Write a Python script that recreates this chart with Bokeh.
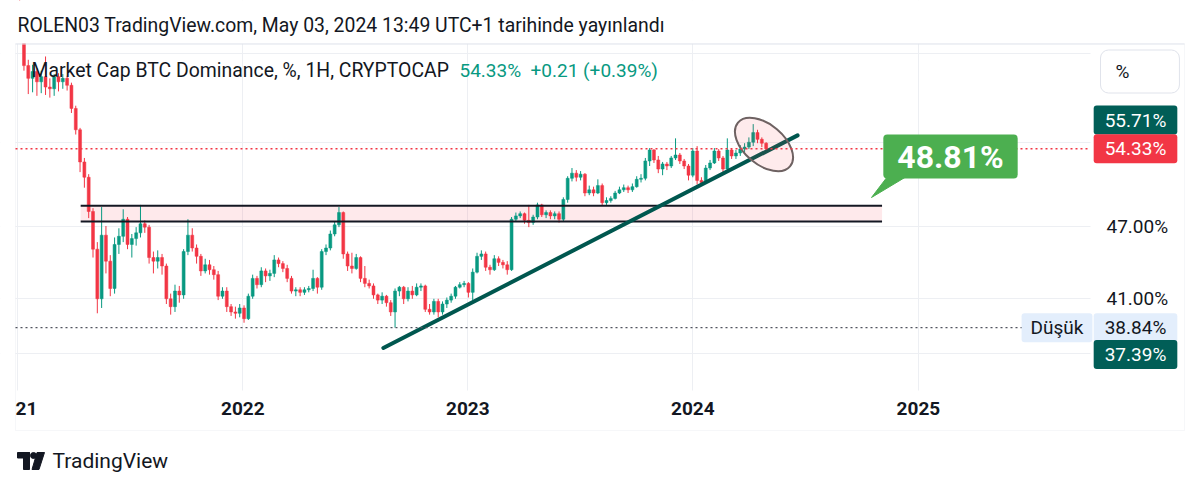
from datetime import datetime, timedelta
import math
import pandas as pd
from bokeh.plotting import figure
from bokeh.models import (Range1d, FixedTicker, PrintfTickFormatter, DatetimeTickFormatter,
                          Label, BoxAnnotation, ColumnDataSource)
from bokeh.embed import file_html
from bokeh.resources import INLINE

# ---------------- data ----------------
header = "ROLEN03 TradingView.com, May 03, 2024 13:49 UTC+1 tarihinde yayınlandı"
symbol_title = "Market Cap BTC Dominance, %, 1H, CRYPTOCAP"
change_abs = "+0.21"
change_pct = "(+0.39%)"
low_label = "Düşük"
brand = "TradingView"
first_week = "2021-01-04"
first_open = 70.8

closes = [
    69.2, 63.5, 62.0, 62.8, 61.6, 62.2, 61.0, 60.8, 62.2, 61.6,
    62.0, 61.2, 58.6, 56.3, 53.0, 51.5, 48.3, 45.0, 41.0, 46.2,
    44.0, 41.8, 45.4, 46.1, 47.6, 45.4, 45.9, 46.4, 47.2, 46.9,
    44.3, 44.0, 44.3, 43.6, 41.0, 40.4, 41.6, 41.3, 44.8, 46.2,
    45.1, 44.4, 43.2, 43.7, 43.3, 42.9, 41.2, 41.6, 40.4, 40.0,
    39.9, 40.3, 39.5, 41.2, 42.6, 42.1, 43.2, 42.8, 43.0, 44.1,
    43.8, 43.4, 42.6, 41.6, 41.7, 41.5, 41.7, 41.8, 42.6, 41.9,
    44.8, 45.1, 46.3, 47.1, 48.2, 44.6, 43.6, 43.4, 44.3, 42.6,
    42.2, 42.0, 41.3, 40.9, 41.2, 40.7, 40.0, 41.6, 41.9, 41.0,
    41.6, 41.3, 41.9, 42.0, 40.2, 40.0, 40.8, 40.0, 40.6, 40.9,
    41.2, 41.9, 42.1, 42.2, 41.5, 43.1, 44.4, 44.6, 43.5, 43.3,
    44.2, 43.9, 43.7, 43.3, 47.6, 47.9, 48.1, 47.5, 47.3, 47.8,
    48.9, 48.0, 48.2, 47.9, 48.1, 47.6, 49.4, 51.4, 51.9, 51.5,
    51.8, 50.0, 50.3, 50.0, 50.7, 49.1, 49.3, 49.5, 50.0, 50.3,
    50.5, 50.3, 50.6, 51.3, 51.4, 53.1, 54.2, 53.2, 52.3, 52.8,
    52.6, 53.4, 53.7, 53.1, 52.6, 51.7, 54.1, 51.2, 51.0, 52.4,
    52.9, 54.1, 53.4, 52.3, 54.2, 53.6, 53.9, 54.3, 54.5, 55.0,
    56.0, 55.3, 54.9, 54.33,
]
highs = [
    73.0, 69.8, 64.2, 63.6, 63.2, 62.9, 64.6, 62.0, 62.5, 62.6,
    62.5, 62.3, 61.5, 58.9, 56.5, 53.4, 51.8, 48.6, 45.6, 48.7,
    47.0, 44.5, 46.0, 46.8, 48.5, 47.8, 46.3, 46.9, 48.9, 47.5,
    47.1, 44.8, 44.9, 44.6, 43.8, 41.4, 42.1, 42.0, 45.0, 47.6,
    46.8, 45.4, 44.6, 44.2, 44.1, 43.6, 43.2, 41.9, 41.9, 40.6,
    40.4, 40.6, 40.5, 41.4, 42.9, 42.8, 43.5, 43.4, 43.3, 44.5,
    44.3, 44.0, 43.7, 42.8, 41.9, 41.9, 41.9, 42.0, 43.3, 42.7,
    45.0, 45.4, 46.6, 47.4, 48.7, 48.3, 44.8, 44.7, 44.6, 44.4,
    43.6, 42.5, 42.2, 41.4, 41.5, 41.3, 40.9, 41.8, 42.0, 42.0,
    41.9, 42.0, 42.2, 42.2, 42.1, 40.6, 41.0, 41.0, 40.8, 41.1,
    41.4, 42.0, 42.3, 42.4, 42.3, 43.4, 44.7, 44.9, 44.8, 43.7,
    44.5, 44.4, 44.1, 44.0, 47.8, 48.2, 48.3, 48.2, 48.9, 48.0,
    49.1, 49.0, 48.4, 48.4, 48.3, 48.3, 49.6, 51.6, 52.4, 52.2,
    52.1, 51.9, 50.7, 50.6, 51.3, 50.9, 49.6, 49.7, 50.2, 50.6,
    50.8, 50.7, 50.9, 51.6, 51.8, 53.4, 54.4, 54.3, 53.6, 53.0,
    53.0, 53.6, 55.4, 53.9, 53.3, 52.8, 54.4, 54.6, 51.5, 52.7,
    53.2, 54.4, 54.3, 53.6, 55.4, 54.3, 54.2, 54.7, 54.9, 55.5,
    56.9, 56.3, 55.5, 55.0,
]
lows = [
    68.0, 62.9, 60.2, 60.4, 60.0, 60.3, 60.1, 59.8, 60.0, 60.5,
    60.8, 60.6, 58.1, 55.8, 52.0, 50.5, 47.7, 44.3, 39.9, 40.3,
    43.0, 41.2, 41.4, 44.6, 45.6, 45.0, 44.3, 45.3, 46.0, 46.4,
    43.8, 43.0, 43.4, 42.9, 40.6, 39.8, 40.0, 40.7, 41.0, 44.5,
    44.8, 43.8, 42.8, 43.0, 42.9, 42.5, 40.9, 41.0, 40.0, 39.7,
    39.5, 39.6, 39.2, 39.4, 41.0, 41.8, 41.9, 42.3, 42.4, 42.7,
    43.5, 43.1, 42.3, 41.4, 41.2, 41.2, 41.3, 41.5, 41.6, 41.4,
    41.7, 44.5, 44.9, 46.1, 46.9, 44.2, 43.2, 43.0, 43.3, 42.3,
    41.9, 41.8, 41.0, 40.6, 40.6, 40.4, 39.7, 38.84, 41.2, 40.6,
    40.8, 41.0, 41.2, 41.6, 40.0, 39.8, 39.8, 39.6, 39.8, 40.3,
    40.7, 41.0, 41.8, 41.9, 41.1, 40.9, 43.0, 44.1, 43.2, 42.9,
    43.2, 43.6, 43.4, 42.9, 43.2, 47.4, 47.7, 47.2, 46.9, 47.1,
    47.6, 47.8, 47.7, 47.6, 47.6, 47.3, 47.4, 49.1, 51.1, 51.1,
    51.2, 49.7, 49.8, 49.7, 49.9, 48.8, 48.9, 49.1, 49.4, 49.9,
    50.1, 50.0, 50.1, 50.5, 51.0, 51.2, 52.6, 52.9, 51.9, 51.7,
    52.2, 52.4, 53.2, 52.8, 52.3, 51.2, 51.5, 50.8, 50.7, 50.9,
    52.2, 52.8, 53.1, 52.0, 52.1, 53.3, 53.3, 53.6, 54.0, 54.3,
    54.6, 54.9, 54.5, 54.1,
]

zone_dates = ["2021-04-13", "2024-11-03"]
zone_prices = [47.40, 48.81]
trend_dates = ["2022-08-17", "2024-06-19"]
trend_prices = [37.39, 55.71]
grid_prices = [37, 41, 47, 55, 65]
axis_prices = [41, 47]
years = [2021, 2022, 2023, 2024, 2025]

# ---------------- layout calibration (canvas pixels) ----------------
W, H = 1200, 488
PANE_L, PANE_R, PANE_T, PANE_B = 15, 1090, 43, 390     # price pane
BOX_R, BOX_B = 1184, 430                                # outer chart border
PX_PER_DAY = 225.0 / 365.0
ORIGIN, ORIGIN_PX = datetime(2021, 1, 1), 17.3
REF_PRICE, REF_PX, PX_PER_LN = 47.0, 225.5, 533.0
EPOCH = datetime(1970, 1, 1)

def px_date(px):
    return ORIGIN + timedelta(days=(px - ORIGIN_PX) / PX_PER_DAY)

def py_val(py):
    return REF_PRICE * math.exp((REF_PX - py) / PX_PER_LN)

def sy(py):          # screen units measured from the bottom of the canvas-sized frame
    return H - py

def ms(d):
    return (d - EPOCH).total_seconds() * 1000.0

UP, DOWN, INK = "#089981", "#F23645", "#131722"
TEAL = "#015E57"
FONT = "Roboto"
NBSP = "\u00a0"

p = figure(width=W, height=H, x_axis_type="datetime", y_axis_type="log",
           y_axis_location="right",
           x_range=Range1d(px_date(0), px_date(W)),
           y_range=Range1d(py_val(H), py_val(0)),
           output_backend="svg", toolbar_location=None, title=None,
           min_border=0, min_border_left=0, min_border_right=0,
           min_border_top=0, min_border_bottom=0)
p.outline_line_color = None
p.background_fill_color = "white"
p.border_fill_color = "white"

# ---- axes (drawn inward, onto the price scale / time scale strips) ----
p.yaxis.ticker = FixedTicker(ticks=axis_prices)
p.yaxis.formatter = PrintfTickFormatter(format="%.2f%%")
p.yaxis.axis_line_color = None
p.yaxis.major_tick_line_color = None
p.yaxis.minor_tick_line_color = None
p.yaxis.major_tick_out = 0
p.yaxis.major_tick_in = 0
p.yaxis.major_label_text_font = FONT
p.yaxis.major_label_text_font_size = "19px"
p.yaxis.major_label_text_color = INK
p.yaxis.major_label_standoff = 1106 - W

p.xaxis.ticker = FixedTicker(ticks=[ms(datetime(y, 1, 1)) for y in years[1:]])
p.xaxis.formatter = DatetimeTickFormatter(years="%Y", months="%Y", days="%Y", hours="%Y",
                                          hourmin="%Y", minutes="%Y", minsec="%Y",
                                          seconds="%Y", milliseconds="%Y", microseconds="%Y")
p.xaxis.axis_line_color = None
p.xaxis.major_tick_line_color = None
p.xaxis.minor_tick_line_color = None
p.xaxis.major_tick_out = 0
p.xaxis.major_tick_in = 0
p.xaxis.major_label_text_font = FONT
p.xaxis.major_label_text_font_size = "19px"
p.xaxis.major_label_text_font_style = "bold"
p.xaxis.major_label_text_color = INK
p.xaxis.major_label_standoff = 401 - H

p.xgrid.ticker = FixedTicker(ticks=[ms(datetime(y, 1, 1)) for y in years])
p.ygrid.ticker = FixedTicker(ticks=grid_prices)
p.xgrid.grid_line_color = "#EDEFF3"
p.ygrid.grid_line_color = "#EDEFF3"

# white strips that end the grid at the pane edges (drawn just above the grid)
for l, r, t, b in [(0, W, 0, PANE_T), (PANE_R, W, PANE_T, H), (0, PANE_R, PANE_B, H), (0, PANE_L, 0, H)]:
    p.add_layout(BoxAnnotation(left=l, right=r, top=sy(t), bottom=sy(b),
                               left_units="screen", right_units="screen",
                               top_units="screen", bottom_units="screen",
                               fill_color="white", fill_alpha=1.0, line_color=None,
                               level="underlay"))
# outer chart border
p.add_layout(BoxAnnotation(left=PANE_L, right=BOX_R, top=sy(PANE_T), bottom=sy(BOX_B),
                           left_units="screen", right_units="screen",
                           top_units="screen", bottom_units="screen",
                           fill_color=None, line_color="#E0E3EB", line_width=1,
                           level="underlay"))

# ---- zone (rectangle drawing) ----
zd = pd.to_datetime(zone_dates)
p.quad(left=[zd[0]], right=[zd[1]], bottom=[zone_prices[0]], top=[zone_prices[1]],
       fill_color=DOWN, fill_alpha=0.11, line_color=None)

# ---- candles ----
dates = pd.date_range(first_week, periods=len(closes), freq="7D")
opens = [first_open] + closes[:-1]
colors = [UP if c >= o else DOWN for o, c in zip(opens, closes)]
src = ColumnDataSource(dict(
    date=dates, high=highs, low=lows,
    top=[max(o, c) for o, c in zip(opens, closes)],
    bottom=[min(o, c) for o, c in zip(opens, closes)],
    color=colors))
p.segment(x0="date", y0="high", x1="date", y1="low", line_color="color", line_width=1, source=src)
p.vbar(x="date", width=4.8 * 86400000, top="top", bottom="bottom",
       fill_color="color", line_color="color", line_width=0.5, source=src)

# zone borders
p.segment(x0=[zd[0], zd[0]], y0=zone_prices, x1=[zd[1], zd[1]], y1=zone_prices,
          line_color=INK, line_width=2)

# trend line
p.line(x=pd.to_datetime(trend_dates), y=trend_prices, line_color="#00574F",
       line_width=4, line_cap="round")

# ellipse highlight
p.ellipse(x=[px_date(763.5)], y=[py_val(144)], width=68, height=40,
          width_units="screen", height_units="screen", angle=-0.70,
          fill_color=DOWN, fill_alpha=0.10, line_color="#6E6262", line_width=2)

# last price line and lowest-low line (end at the pane edge / low tag)
p.segment(x0=[px_date(PANE_L)], x1=[px_date(PANE_R)], y0=[closes[-1]], y1=[closes[-1]],
          line_color=DOWN, line_dash="2 3", line_width=1.4)
p.segment(x0=[px_date(PANE_L)], x1=[px_date(1022)], y0=[min(lows)], y1=[min(lows)],
          line_color="#50535E", line_dash="2 3", line_width=1.2)

# callout pointer
p.patch(x=[px_date(887), px_date(906), px_date(871)],
        y=[py_val(176), py_val(176), py_val(197)], color="#4CAF50")

# TradingView logo
p.quad(left=[px_date(17), px_date(23)], right=[px_date(29), px_date(29)],
       top=[py_val(452), py_val(452)], bottom=[py_val(457.5), py_val(469)], color=INK)
p.scatter(x=[px_date(33)], y=[py_val(455)], size=6, color=INK)
p.patch(x=[px_date(36.5), px_date(44), px_date(38.5), px_date(31.5)],
        y=[py_val(452), py_val(452), py_val(469), py_val(469)], color=INK)

def lab(text, x, y, size="19px", color=INK, align="left", bold=False, bg=None,
        pad=0, radius=0, border=None, y_units="screen"):
    kw = dict(x=x, y=y, x_units="screen", y_units=y_units, text=text,
              text_font=FONT, text_font_size=size, text_color=color,
              text_align=align, text_baseline="middle",
              text_font_style="bold" if bold else "normal")
    if bg is not None:
        kw.update(background_fill_color=bg, background_fill_alpha=1.0,
                  padding=pad, border_radius=radius)
    if border is not None:
        kw.update(border_line_color=border, border_line_width=1)
    lbl = Label(**kw)
    p.add_layout(lbl)
    return lbl

# white cap above the pane so tall early candles stop at the pane top
p.add_layout(BoxAnnotation(left=0, right=W, top=sy(0), bottom=sy(PANE_T),
                           left_units="screen", right_units="screen",
                           top_units="screen", bottom_units="screen",
                           fill_color="white", fill_alpha=1.0, line_color=None))
p.add_layout(BoxAnnotation(left=PANE_L, right=BOX_R, top=sy(PANE_T), bottom=sy(PANE_T) - 1,
                           left_units="screen", right_units="screen",
                           top_units="screen", bottom_units="screen",
                           fill_color="#E0E3EB", fill_alpha=1.0, line_color=None))

# callout box
lab(f"{zone_prices[1]:.2f}%", 950, sy(156), size="32px", color="white", align="center",
    bold=True, bg="#4CAF50", pad=dict(left=14, right=14, top=3, bottom=3), radius=4)

# header / legend
lab(header, 17, sy(25), size="19.4px")
lab(symbol_title, 31, sy(70), size="19.4px")
lab(f"{closes[-1]:.2f}%{NBSP}{NBSP}{change_abs}{NBSP}{change_pct}", 459, sy(70),
    size="19px", color=UP)

# price scale tags
box_pad = dict(left=11, right=11, top=3, bottom=3)
lab("%", 1100, sy(71), align="left", bg="white",
    pad=dict(left=15, right=50, top=10, bottom=10), radius=8, border="#E0E3EB")
lab(f"{trend_prices[1]:.2f}%", 1135, sy(119.5), color="white", align="center",
    bg=TEAL, pad=box_pad, radius=3)
lab(f"{closes[-1]:.2f}%", 1135, closes[-1], color="white", align="center",
    bg=DOWN, pad=box_pad, radius=3, y_units="data")
lab(low_label, 1056.5, min(lows), align="center", bg="#E3EEFC",
    pad=dict(left=9, right=9, top=3, bottom=3), radius=3, y_units="data")
lab(f"{min(lows):.2f}%", 1135, min(lows), align="center", bg="#E3EEFC",
    pad=box_pad, radius=3, y_units="data")
lab(f"{trend_prices[0]:.2f}%", 1135, sy(354), color="white", align="center",
    bg=TEAL, pad=box_pad, radius=3)

# first (clipped) year label and footer brand
lab(str(years[0])[2:], 15, sy(408), bold=True)
lab(brand, 52, sy(460), size="21px")

open("out.html", "w").write(file_html(p, INLINE))
